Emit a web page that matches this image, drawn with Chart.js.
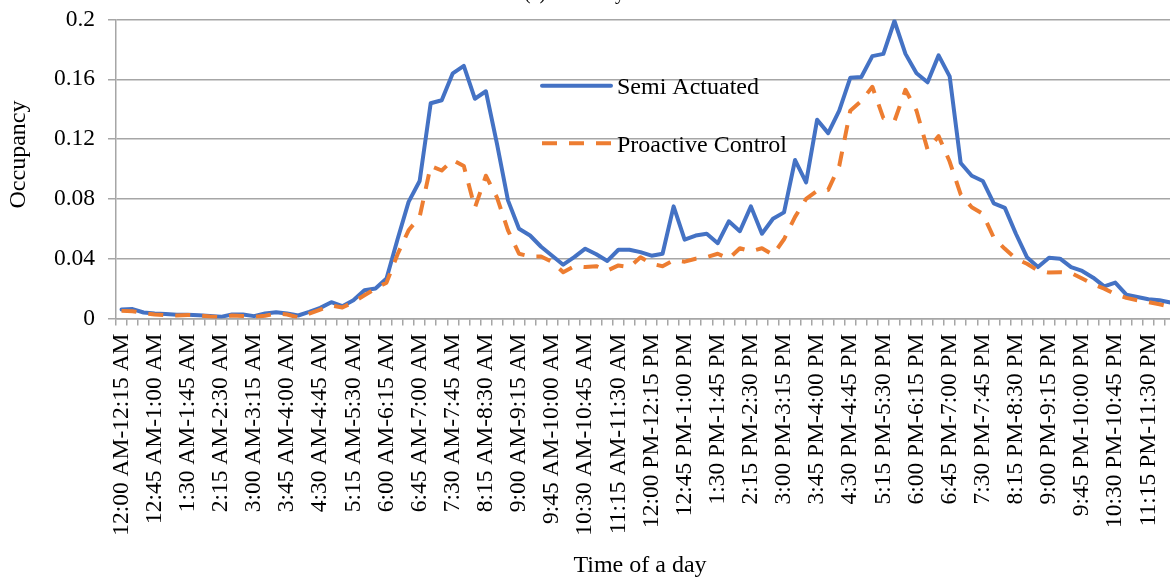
<!DOCTYPE html>
<html>
<head>
<meta charset="utf-8">
<script src="https://cdn.jsdelivr.net/npm/chart.js@4/dist/chart.umd.min.js"></script>
<style>
  html, body { margin: 0; padding: 0; background: #fff; overflow: hidden; width: 1170px; height: 578px; }
  #wrap { position: absolute; left: 0; top: 0; width: 1182px; height: 578px; }
</style>
</head>
<body>
<div id="wrap"><canvas id="c" width="1182" height="578"></canvas></div>
<script>
// 15-minute intervals over the day
const intervals = [
  "12:00 AM-12:15 AM","12:15 AM-12:30 AM","12:30 AM-12:45 AM","12:45 AM-1:00 AM",
  "1:00 AM-1:15 AM","1:15 AM-1:30 AM","1:30 AM-1:45 AM","1:45 AM-2:00 AM",
  "2:00 AM-2:15 AM","2:15 AM-2:30 AM","2:30 AM-2:45 AM","2:45 AM-3:00 AM",
  "3:00 AM-3:15 AM","3:15 AM-3:30 AM","3:30 AM-3:45 AM","3:45 AM-4:00 AM",
  "4:00 AM-4:15 AM","4:15 AM-4:30 AM","4:30 AM-4:45 AM","4:45 AM-5:00 AM",
  "5:00 AM-5:15 AM","5:15 AM-5:30 AM","5:30 AM-5:45 AM","5:45 AM-6:00 AM",
  "6:00 AM-6:15 AM","6:15 AM-6:30 AM","6:30 AM-6:45 AM","6:45 AM-7:00 AM",
  "7:00 AM-7:15 AM","7:15 AM-7:30 AM","7:30 AM-7:45 AM","7:45 AM-8:00 AM",
  "8:00 AM-8:15 AM","8:15 AM-8:30 AM","8:30 AM-8:45 AM","8:45 AM-9:00 AM",
  "9:00 AM-9:15 AM","9:15 AM-9:30 AM","9:30 AM-9:45 AM","9:45 AM-10:00 AM",
  "10:00 AM-10:15 AM","10:15 AM-10:30 AM","10:30 AM-10:45 AM","10:45 AM-11:00 AM",
  "11:00 AM-11:15 AM","11:15 AM-11:30 AM","11:30 AM-11:45 AM","11:45 AM-12:00 PM",
  "12:00 PM-12:15 PM","12:15 PM-12:30 PM","12:30 PM-12:45 PM","12:45 PM-1:00 PM",
  "1:00 PM-1:15 PM","1:15 PM-1:30 PM","1:30 PM-1:45 PM","1:45 PM-2:00 PM",
  "2:00 PM-2:15 PM","2:15 PM-2:30 PM","2:30 PM-2:45 PM","2:45 PM-3:00 PM",
  "3:00 PM-3:15 PM","3:15 PM-3:30 PM","3:30 PM-3:45 PM","3:45 PM-4:00 PM",
  "4:00 PM-4:15 PM","4:15 PM-4:30 PM","4:30 PM-4:45 PM","4:45 PM-5:00 PM",
  "5:00 PM-5:15 PM","5:15 PM-5:30 PM","5:30 PM-5:45 PM","5:45 PM-6:00 PM",
  "6:00 PM-6:15 PM","6:15 PM-6:30 PM","6:30 PM-6:45 PM","6:45 PM-7:00 PM",
  "7:00 PM-7:15 PM","7:15 PM-7:30 PM","7:30 PM-7:45 PM","7:45 PM-8:00 PM",
  "8:00 PM-8:15 PM","8:15 PM-8:30 PM","8:30 PM-8:45 PM","8:45 PM-9:00 PM",
  "9:00 PM-9:15 PM","9:15 PM-9:30 PM","9:30 PM-9:45 PM","9:45 PM-10:00 PM",
  "10:00 PM-10:15 PM","10:15 PM-10:30 PM","10:30 PM-10:45 PM","10:45 PM-11:00 PM",
  "11:00 PM-11:15 PM","11:15 PM-11:30 PM","11:30 PM-11:45 PM","11:45 PM-12:00 AM"
];

// Occupancy, semi actuated signal control
const semiActuated = [
  0.0060, 0.0063, 0.0040, 0.0033, 0.0030, 0.0025, 0.0025, 0.0022,
  0.0016, 0.0011, 0.0027, 0.0027, 0.0016, 0.0033, 0.0042, 0.0033,
  0.0020, 0.0044, 0.0071, 0.0109, 0.0082, 0.0122, 0.0189, 0.0200,
  0.0267, 0.0530, 0.0780, 0.0920, 0.1440, 0.1460, 0.1640, 0.1690,
  0.1470, 0.1520, 0.1170, 0.0790, 0.0600, 0.0555, 0.0480, 0.0420,
  0.0360, 0.0410, 0.0467, 0.0430, 0.0385, 0.0460, 0.0460, 0.0444,
  0.0420, 0.0433, 0.0750, 0.0527, 0.0555, 0.0567, 0.0504, 0.0650,
  0.0584, 0.0750, 0.0567, 0.0667, 0.0710, 0.1060, 0.0910, 0.1330,
  0.1240, 0.1390, 0.1610, 0.1615, 0.1755, 0.1770, 0.1990, 0.1770,
  0.1640, 0.1580, 0.1760, 0.1620, 0.1040, 0.0955, 0.0920, 0.0770,
  0.0740, 0.0567, 0.0410, 0.0344, 0.0407, 0.0400, 0.0344, 0.0318,
  0.0273, 0.0215, 0.0240, 0.0160, 0.0144, 0.0129, 0.0122, 0.0107
];

// Occupancy, proactive control
const proactiveControl = [
  0.0051, 0.0049, 0.0036, 0.0027, 0.0022, 0.0020, 0.0024, 0.0020,
  0.0013, 0.0009, 0.0020, 0.0016, 0.0011, 0.0018, 0.0033, 0.0027,
  0.0007, 0.0033, 0.0060, 0.0087, 0.0073, 0.0110, 0.0155, 0.0200,
  0.0240, 0.0430, 0.0590, 0.0680, 0.1020, 0.0990, 0.1060, 0.1020,
  0.0740, 0.0955, 0.0810, 0.0590, 0.0433, 0.0415, 0.0415, 0.0378,
  0.0310, 0.0350, 0.0344, 0.0350, 0.0320, 0.0355, 0.0344, 0.0410,
  0.0366, 0.0350, 0.0390, 0.0380, 0.0400, 0.0410, 0.0433, 0.0400,
  0.0470, 0.0450, 0.0470, 0.0426, 0.0530, 0.0680, 0.0800, 0.0855,
  0.0860, 0.1020, 0.1390, 0.1455, 0.1550, 0.1340, 0.1320, 0.1530,
  0.1390, 0.1130, 0.1220, 0.1050, 0.0830, 0.0744, 0.0700, 0.0540,
  0.0466, 0.0400, 0.0366, 0.0322, 0.0307, 0.0310, 0.0304, 0.0267,
  0.0229, 0.0200, 0.0162, 0.0138, 0.0122, 0.0110, 0.0095, 0.0078
];

const yTicks = [0, 0.04, 0.08, 0.12, 0.16, 0.2];
const seriesNames = ["Semi Actuated", "Proactive Control"];
const seriesColors = ["#4472C4", "#ED7D31"];
const chartTitle = "(a) Weekday";
const xTitle = "Time of a day";
const yTitle = "Occupancy";

const SERIF = '"Liberation Serif", "Times New Roman", serif';
const GRID = "#a6a6a6";
const DASH = [15, 12];

// Title, axis titles and the in-plot legend
const decorations = {
  id: "decorations",
  afterDraw(chart) {
    const ctx = chart.ctx;
    ctx.save();
    ctx.fillStyle = "#000";

    ctx.font = "20px " + SERIF;
    ctx.textAlign = "left";
    ctx.textBaseline = "alphabetic";
    ctx.fillText(chartTitle, 524, -1.5);

    ctx.font = "24px " + SERIF;
    ctx.textAlign = "center";
    ctx.textBaseline = "middle";
    ctx.fillText(xTitle, 640, 566);

    ctx.save();
    ctx.translate(19, 154.5);
    ctx.rotate(-Math.PI / 2);
    ctx.fillText(yTitle, 0, 0);
    ctx.restore();

    const lx0 = 542, lx1 = 611, rows = [85.7, 143.3];
    ctx.textAlign = "left";
    ctx.textBaseline = "alphabetic";
    rows.forEach((y, k) => {
      ctx.beginPath();
      ctx.strokeStyle = seriesColors[k];
      ctx.lineWidth = 4;
      ctx.lineCap = k === 0 ? "round" : "butt";
      ctx.setLineDash(k === 0 ? [] : DASH);
      ctx.moveTo(lx0, y);
      ctx.lineTo(lx1, y);
      ctx.stroke();
      ctx.setLineDash([]);
      ctx.fillStyle = "#000";
      ctx.fillText(seriesNames[k], 617, y + 8.6);
    });
    ctx.restore();
  }
};

new Chart(document.getElementById("c"), {
  type: "line",
  data: {
    labels: intervals,
    datasets: [
      {
        label: seriesNames[0],
        data: semiActuated,
        borderColor: seriesColors[0],
        backgroundColor: seriesColors[0],
        borderWidth: 4,
        borderJoinStyle: "round",
        borderCapStyle: "round",
        pointRadius: 0,
        tension: 0,
        order: 1
      },
      {
        label: seriesNames[1],
        data: proactiveControl,
        borderColor: seriesColors[1],
        backgroundColor: seriesColors[1],
        borderWidth: 4,
        borderDash: DASH,
        borderJoinStyle: "round",
        borderCapStyle: "butt",
        pointRadius: 0,
        tension: 0,
        order: 0
      }
    ]
  },
  options: {
    responsive: false,
    animation: false,
    devicePixelRatio: 1,
    layout: { padding: { top: 19.5, right: 6, left: 0, bottom: 0 } },
    plugins: {
      legend: { display: false },
      title: { display: false },
      tooltip: { enabled: false }
    },
    scales: {
      x: {
        type: "category",
        offset: true,
        grid: {
          offset: true,
          drawOnChartArea: false,
          drawTicks: true,
          tickLength: 7,
          color: GRID,
          lineWidth: 1.5
        },
        border: { display: true, color: GRID, width: 1.5 },
        ticks: {
          autoSkip: false,
          minRotation: 90,
          maxRotation: 90,
          padding: 8,
          color: "#000",
          font: { family: SERIF, size: 23.5 },
          callback(value, index) {
            return index % 3 === 0 ? this.getLabelForValue(value) : "";
          }
        },
        afterFit(scale) {
          scale.height = 578 - 318.5;
          scale.paddingLeft = 0;
          scale.paddingRight = 0;
        }
      },
      y: {
        min: 0,
        max: 0.2,
        afterBuildTicks(scale) { scale.ticks = yTicks.map(v => ({ value: v })); },
        grid: {
          color: GRID,
          lineWidth: 1.5,
          tickLength: 8
        },
        border: { display: true, color: GRID, width: 1.5 },
        ticks: {
          padding: 13,
          color: "#000",
          font: { family: SERIF, size: 23.5 },
          callback(value) { return String(Number(value.toFixed(2))); }
        },
        afterFit(scale) {
          scale.width = 116;
          scale.paddingTop = 0;
          scale.paddingBottom = 0;
        }
      }
    }
  },
  plugins: [decorations]
});
</script>
</body>
</html>
